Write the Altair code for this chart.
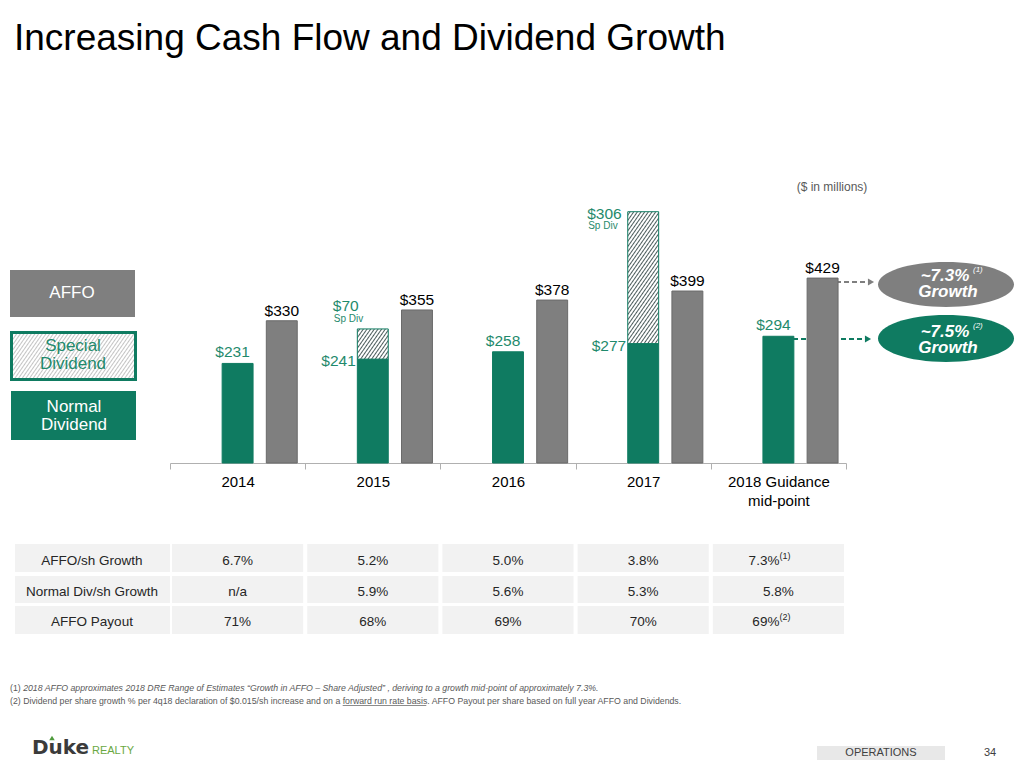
import math
import altair as alt
import pandas as pd

# ---------------- data ----------------
years = ["2014", "2015", "2016", "2017", "2018 Guidance mid-point"]
normal_dividend = [231, 241, 258, 277, 294]
special_dividend = [0, 70, 0, 306, 0]
affo = [330, 355, 378, 399, 429]

table_labels = ["AFFO/sh Growth", "Normal Div/sh Growth", "AFFO Payout"]
affo_growth = ["6.7%", "5.2%", "5.0%", "3.8%", "7.3%"]
normal_div_growth = ["n/a", "5.9%", "5.6%", "5.3%", "5.8%"]
affo_payout = ["71%", "68%", "69%", "70%", "69%"]
table_values = [affo_growth, normal_div_growth, affo_payout]
table_notes = [["", "", "", "", "(1)"], ["", "", "", "", ""], ["", "", "", "", "(2)"]]

growth_callouts = ["~7.3%", "~7.5%"]
callout_notes = ["(1)", "(2)"]

# ---------------- style / layout ----------------
GREEN = "#0f7b61"
GREEN_TXT = "#1f8a6c"
GRAY = "#7f7f7f"
FONT = "Liberation Sans"
W, H = 676, 300
YMAX = 696
X0, Y0 = 170, 163  # page position of the plot origin
TOTAL_W, TOTAL_H = 1008, 752


def px(X):
    return X - X0


def py(Y):
    return Y - Y0


one = alt.Data(values=[{"k": 1}])


def txt(text, X, Y, size, color, align="left", weight="normal", style="normal",
        font=FONT, baseline="alphabetic"):
    return alt.Chart(one).mark_text(
        text=text, align=align, baseline=baseline, fontSize=size, color=color,
        font=font, fontWeight=weight, fontStyle=style
    ).encode(x=alt.value(px(X)), y=alt.value(py(Y)))


def rect(X1, X2, Y1, Y2, fill, stroke=None, sw=0):
    kw = dict(fill=fill)
    if stroke:
        kw.update(stroke=stroke, strokeWidth=sw)
    else:
        kw.update(strokeWidth=0)
    return alt.Chart(one).mark_rect(**kw).encode(
        x=alt.value(px(X1)), x2=alt.value(px(X2)),
        y=alt.value(py(Y1)), y2=alt.value(py(Y2)))


def hatch(w, h, line, bg="#ffffff", period=3.0, lw=1.0, theta=55):
    t = math.radians(theta)
    ax, ay = w * math.sin(t), h * math.cos(t)
    L = ax + ay
    ax, ay = ax / L, ay / L
    n2 = ax * ax + ay * ay
    stops = []
    n = int(math.ceil(L / period))
    for i in range(n):
        a = i * period
        pts = [(a, bg), (a + period - 2 * lw, bg), (a + period - lw, line), (a + period, bg)]
        for p, c in pts:
            stops.append({"offset": round(min(p, L) / L, 5), "color": c})
    return {"gradient": "linear", "x1": 0, "y1": 0, "x2": ax / n2, "y2": ay / n2, "stops": stops}


def ellipse_path(r):
    k = 0.5523
    a, b = r * k, r
    return (f"M-1,0C-1,-{a} -{k},-{b} 0,-{b}C{k},-{b} 1,-{a} 1,0"
            f"C1,{a} {k},{b} 0,{b}C-{k},{b} -1,{a} -1,0Z")


# ---------------- scales ----------------
xscale = alt.Scale(domain=years, paddingInner=0, paddingOuter=0)
xaxis = alt.Axis(
    title=None, labelAngle=0, domainColor="#b0b0b0", tickColor="#b0b0b0", tickSize=6,
    tickBand="extent", labelFontSize=15, labelColor="#000000", labelFont=FONT,
    labelPadding=5, labelLineHeight=19, labelOverlap=False, grid=False,
    labelExpr="datum.value == '2018 Guidance mid-point' ? ['2018 Guidance', 'mid-point'] : datum.label")
X = alt.X("year:N", scale=xscale, axis=xaxis, title=None)
yscale = alt.Scale(domain=[0, YMAX], nice=False, zero=True)
offscale = alt.Scale(domain=["gap", "Normal", "AFFO"], paddingInner=0.3, paddingOuter=0.18)
XO = alt.XOffset("series:N", scale=offscale)

step = W / len(years)
bandw = 0.7 * step / (3 - 0.3 + 2 * 0.18)

# ---------------- data frames ----------------
bars = pd.DataFrame(
    [{"year": y, "series": "Normal", "value": v, "special": s}
     for y, v, s in zip(years, normal_dividend, special_dividend)]
    + [{"year": y, "series": "AFFO", "value": v, "special": 0} for y, v in zip(years, affo)])
special = pd.DataFrame(
    [{"year": y, "series": "Normal", "base": n, "top": n + s, "special": s}
     for y, n, s in zip(years, normal_dividend, special_dividend) if s > 0])

layers = []

# dashed arrows (drawn first so the bars cover them)
arrow_specs = [(836, 867, 871, 282, GRAY), (793, 864, 868, 339, GREEN)]
for xa, xb, xh, yy, col in arrow_specs:
    layers.append(alt.Chart(one).mark_rule(strokeDash=[5, 3], strokeWidth=2, color=col).encode(
        x=alt.value(px(xa)), x2=alt.value(px(xb)), y=alt.value(py(yy))))
    layers.append(alt.Chart(one).mark_point(shape="triangle-right", filled=True, size=50,
                                            color=col, opacity=1).encode(
        x=alt.value(px(xh)), y=alt.value(py(yy))))

# bars
layers.append(alt.Chart(bars).mark_bar(strokeWidth=1).encode(
    x=X, xOffset=XO,
    y=alt.Y("value:Q", scale=yscale, axis=None),
    color=alt.Color("series:N", scale=alt.Scale(domain=["Normal", "AFFO"], range=[GREEN, GRAY]), legend=None),
    stroke=alt.Stroke("series:N", scale=alt.Scale(domain=["Normal", "AFFO"], range=[GREEN, "#6a6a6a"]), legend=None),
))

# hatched special-dividend segments
for _, row in special.iterrows():
    hpx = row["special"] / YMAX * H
    layers.append(alt.Chart(special).transform_filter(
        alt.datum.year == row["year"]).mark_bar(
        fill=hatch(bandw, hpx, "#4d5d5d"), stroke=GREEN, strokeWidth=1).encode(
        x=X, xOffset=XO,
        y=alt.Y("top:Q", scale=yscale, axis=None), y2=alt.Y2("base:Q")))

# AFFO labels
layers.append(alt.Chart(bars).transform_filter(alt.datum.series == "AFFO").transform_calculate(
    label="'$' + datum.value").mark_text(
    baseline="alphabetic", dy=-5, fontSize=15.5, font=FONT, color="#000000").encode(
    x=X, xOffset=XO, y=alt.Y("value:Q", scale=yscale, axis=None), text="label:N"))

# normal dividend labels above bars
layers.append(alt.Chart(bars).transform_filter(
    (alt.datum.series == "Normal") & (alt.datum.special == 0)).transform_calculate(
    label="'$' + datum.value").mark_text(
    baseline="alphabetic", dy=-6, dx=-5, fontSize=15.5, font=FONT, color=GREEN_TXT).encode(
    x=X, xOffset=XO, y=alt.Y("value:Q", scale=yscale, axis=None), text="label:N"))

# normal dividend labels left of stacked bars
layers.append(alt.Chart(bars).transform_filter(
    (alt.datum.series == "Normal") & (alt.datum.special > 0)).transform_calculate(
    label="'$' + datum.value").mark_text(
    baseline="alphabetic", align="right", dy=7, dx=-17, fontSize=15.5, font=FONT, color=GREEN_TXT).encode(
    x=X, xOffset=XO, y=alt.Y("value:Q", scale=yscale, axis=None), text="label:N"))

# special dividend labels
sp_offsets = {"2015": (-40, -18, -7), "2017": (-56, 7, 17)}
for yr, (ddx, dy1, dy2) in sp_offsets.items():
    base = alt.Chart(special).transform_filter(alt.datum.year == yr).transform_calculate(
        label="'$' + datum.special")
    layers.append(base.mark_text(
        baseline="alphabetic", align="left", dx=ddx, dy=dy1, fontSize=15.5, font=FONT, color=GREEN_TXT).encode(
        x=X, xOffset=XO, y=alt.Y("top:Q", scale=yscale, axis=None), text="label:N"))
    layers.append(base.mark_text(
        text="Sp Div", baseline="alphabetic", align="left", dx=ddx + 1, dy=dy2, fontSize=10,
        font=FONT, color=GREEN_TXT).encode(
        x=X, xOffset=XO, y=alt.Y("top:Q", scale=yscale, axis=None)))

# title and unit note
layers.append(txt("Increasing Cash Flow and Dividend Growth", 14, 50, 37, "#000000"))
layers.append(txt("($ in millions)", 832, 191, 12, "#595959", align="center"))

# legend boxes
layers.append(rect(10, 135, 270, 317, GRAY))
layers.append(txt("AFFO", 72, 298, 17, "#ffffff", align="center"))
layers.append(rect(11.5, 135.5, 332.5, 379.5, hatch(124, 47, "#c4c4c4"), stroke=GREEN, sw=3))
layers.append(txt("Special", 73, 351, 17, GREEN_TXT, align="center"))
layers.append(txt("Dividend", 73, 369, 17, GREEN_TXT, align="center"))
layers.append(rect(11, 136, 391, 440, GREEN))
layers.append(txt("Normal", 74, 412, 17, "#ffffff", align="center"))
layers.append(txt("Dividend", 74, 430, 17, "#ffffff", align="center"))

# growth ovals
oval_specs = [(946, 284.5, 0.33, GRAY, 281, 297), (946, 338.5, 0.345, GREEN, 337, 352.5)]
for (cx, cy, r, col, yb1, yb2), label, note in zip(oval_specs, growth_callouts, callout_notes):
    layers.append(alt.Chart(one).mark_point(shape=ellipse_path(r), filled=True, size=136 ** 2,
                                            fill=col, opacity=1, strokeWidth=0).encode(
        x=alt.value(px(cx)), y=alt.value(py(cy))))
    layers.append(txt(label, cx - 1, yb1, 17, "#ffffff", align="center", weight="bold", style="italic"))
    layers.append(txt(note, cx + 27, yb1 - 9, 8, "#ffffff", align="left", style="italic"))
    layers.append(txt("Growth", cx + 2, yb2, 17, "#ffffff", align="center", weight="bold", style="italic"))

# table
row_pos = [(544, 572, 565), (576, 603, 596), (606, 634, 626)]
for (yt, yb, ybase), lab, vals, notes in zip(row_pos, table_labels, table_values, table_notes):
    df = pd.DataFrame({"year": years, "val": vals, "note": notes})
    layers.append(rect(15, 170, yt, yb, "#f2f2f2"))
    layers.append(txt(lab, 92, ybase, 13.5, "#262626", align="center"))
    layers.append(alt.Chart(df).mark_bar(width=alt.RelativeBandSize(0.97), fill="#f2f2f2", strokeWidth=0).encode(
        x=X, y=alt.value(py(yt)), y2=alt.value(py(yb))))
    layers.append(alt.Chart(df).transform_filter(alt.datum.note == "").mark_text(
        baseline="alphabetic", fontSize=13.5, font=FONT, color="#262626").encode(
        x=X, y=alt.value(py(ybase)), text="val:N"))
    layers.append(alt.Chart(df).transform_filter(alt.datum.note != "").mark_text(
        baseline="alphabetic", align="right", dx=1, fontSize=13.5, font=FONT, color="#262626").encode(
        x=X, y=alt.value(py(ybase)), text="val:N"))
    layers.append(alt.Chart(df).transform_filter(alt.datum.note != "").mark_text(
        baseline="alphabetic", align="left", dx=1, dy=-6, fontSize=9, font=FONT, color="#262626").encode(
        x=X, y=alt.value(py(ybase)), text="note:N"))

# footnotes
FN = 8.75
FC = "#595959"
layers.append(txt("(1)", 10, 691, FN, FC))
layers.append(txt("2018 AFFO approximates 2018 DRE Range of Estimates \u201cGrowth in AFFO \u2013 Share Adjusted\u201d , "
                  "deriving to a growth mid-point of approximately 7.3%.", 10 + 1.5 * FN, 691, FN, FC, style="italic"))
partA = "(2) Dividend per share growth % per 4q18 declaration of $0.015/sh increase and on a "
partB = "forward run rate basis"
partC = ".  AFFO Payout per share based on full year AFFO and Dividends."
xb = 10 + 38.02 * FN
xc = xb + 9.67 * FN
layers.append(txt(partA, 10, 704, FN, FC))
layers.append(txt(partB, xb, 704, FN, FC))
layers.append(txt(partC, xc, 704, FN, FC))
layers.append(alt.Chart(one).mark_rule(strokeWidth=0.7, color=FC).encode(
    x=alt.value(px(xb)), x2=alt.value(px(xc - 1)), y=alt.value(py(705.5))))

# footer
layers.append(txt("Duke", 32, 754, 20, "#3b3b3b", weight="bold", font="DejaVu Sans"))
layers.append(alt.Chart(one).mark_point(shape="triangle-up", filled=True, size=30, color="#4e9a3c", opacity=1).encode(
    x=alt.value(px(52)), y=alt.value(py(738))))
layers.append(txt("REALTY", 92, 754, 11, "#6aa842", font="Liberation Sans Narrow, Liberation Sans"))
layers.append(rect(817, 945, 746, 760, "#e8e8e8"))
layers.append(txt("OPERATIONS", 881, 756, 11, "#404040", align="center"))
layers.append(txt("34", 990, 756, 11, "#404040", align="center"))

chart = alt.layer(*layers).properties(
    width=W, height=H,
    padding={"left": X0 - 8, "top": Y0 - 8,
             "right": TOTAL_W - (X0 - 8) - W, "bottom": TOTAL_H - (Y0 - 8) - H},
    autosize=alt.AutoSizeParams(type="none"),
    background="#ffffff",
).configure_view(stroke=None)

chart.save("out.html", embed_options={"renderer": "svg", "actions": False})
